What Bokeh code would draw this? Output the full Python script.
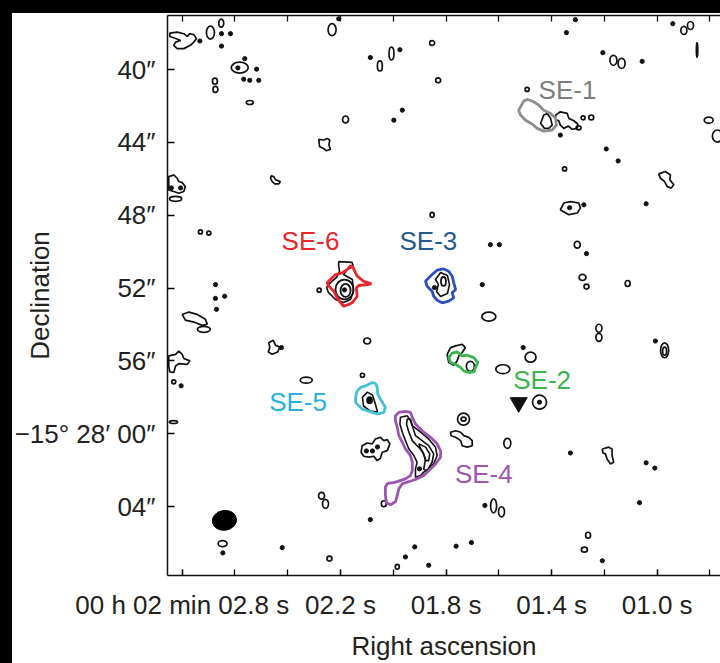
import math
from bokeh.plotting import figure
from bokeh.models import Range1d, FixedTicker, LinearAxis, Div
from bokeh.layouts import column, row
from bokeh.embed import file_html
from bokeh.resources import INLINE
from bokeh.core.properties import value

# ---------------- axes ----------------
x_ticks = [2.8, 2.2, 1.8, 1.4, 1.0]
x_tick_labels = ["00 h 02 min 02.8 s", "02.2 s", "01.8 s", "01.4 s", "01.0 s"]
x_minor = [2.8, 2.6, 2.4, 2.2, 2.0, 1.8, 1.6, 1.4, 1.2, 1.0, 0.8]
y_ticks = [40, 44, 48, 52, 56, 60, 64]
y_tick_labels = ["40″", "44″", "48″", "52″", "56″", "−15° 28′ 00″", "04″"]

# RA in seconds (00h02m + s), Dec in arcsec beyond -15°27'
# ---------------- noise contours: small closed rings (ra s, dec ", w ", h ") ----------------
ring_ra = [2.652, 2.693, 2.582, 2.676, 2.674, 2.544, 2.232, 2.051, 2.007, 1.853, 1.830, 2.181,
           1.493, 1.281, 1.250, 1.298, 1.351, 0.805, 0.772, 0.899, 0.874, 0.849, 1.166, 1.135,
           2.731, 2.699, 2.832, 2.099, 2.330, 2.117, 1.853, 2.281, 2.718, 2.825, 1.303, 1.283,
           1.268, 1.112, 1.638, 1.221, 1.221, 0.972, 0.972, 1.585, 1.480, 1.446, 1.734, 1.734,
           1.568, 1.620, 1.590, 1.262, 1.276, 2.833, 2.647, 2.242, 2.272, 2.257, 2.036, 1.985,
           1.708]
ring_dec = [37.45, 37.97, 39.89, 40.64, 41.09, 41.81, 37.81, 39.80, 39.12, 38.54, 40.59, 42.74,
            41.09, 42.65, 42.63, 43.20, 45.46, 42.78, 43.65, 37.85, 37.58, 38.92, 39.49, 39.66,
            48.92, 48.98, 57.15, 54.91, 57.06, 56.79, 47.98, 52.12, 54.27, 47.10, 49.62, 51.42,
            51.92, 51.75, 53.57, 54.21, 54.71, 55.42, 55.47, 56.46, 55.80, 58.27, 59.20, 59.20,
            60.53, 63.96, 64.29, 65.58, 66.37, 59.36, 66.04, 66.86, 63.41, 63.85, 63.85, 67.31,
            56.30]
ring_w = [0.27, 0.44, 0.93, 0.27, 0.27, 0.38, 0.44, 0.27, 0.27, 0.27, 0.27, 0.33,
          0.22, 0.22, 0.27, 0.27, 0.22, 0.49, 0.55, 0.33, 0.33, 0.08, 0.38, 0.38,
          0.22, 0.22, 0.22, 0.38, 0.66, 0.22, 0.22, 0.22, 0.71, 0.66, 0.33, 0.38,
          0.27, 0.27, 0.77, 0.33, 0.33, 0.44, 0.22, 0.77, 0.60, 0.77, 0.66, 0.27,
          0.38, 0.33, 0.33, 0.27, 0.33, 0.44, 0.49, 0.27, 0.33, 0.33, 0.27, 0.22,
          0.44]
ring_h = [0.44, 0.71, 0.60, 0.33, 0.33, 0.22, 0.66, 0.55, 0.71, 0.27, 0.27, 0.38,
          0.22, 0.22, 0.27, 0.22, 0.22, 0.33, 0.66, 0.44, 0.44, 0.82, 0.55, 0.55,
          0.22, 0.22, 0.22, 0.33, 0.33, 0.22, 0.27, 0.22, 0.33, 0.27, 0.38, 0.33,
          0.27, 0.33, 0.49, 0.44, 0.44, 0.82, 0.44, 0.49, 0.55, 0.77, 0.66, 0.22,
          0.55, 0.77, 0.55, 0.33, 0.27, 0.16, 0.33, 0.27, 0.38, 0.49, 0.33, 0.27,
          0.55]

# unresolved peaks (ra s, dec ")
peak_ra = [2.651, 2.617, 2.733, 2.651, 2.589, 2.563, 2.518, 2.567, 2.544, 2.510, 2.207, 2.087,
           1.975, 1.966, 1.998, 1.367, 1.193, 1.148, 1.310, 1.344, 0.941, 1.206, 1.057, 2.674,
           2.674, 2.639, 2.670, 2.804, 2.424, 1.332, 1.278, 1.042, 1.632, 1.598, 1.268, 1.663,
           1.007, 1.508, 1.329, 1.042, 1.009, 1.653, 1.067, 1.704, 1.762, 1.208, 2.646, 2.421,
           2.087, 1.919, 1.954, 1.866, 2.841, 2.806, 1.844, 1.901, 2.060, 2.102, 2.079, 1.446,
           2.090, 2.185]
peak_dec = [38.03, 38.03, 38.43, 38.71, 39.91, 39.40, 39.98, 40.53, 40.59, 40.59, 37.21, 39.34,
            38.91, 42.23, 42.78, 43.60, 44.36, 45.02, 37.26, 37.97, 37.48, 39.07, 39.55, 51.81,
            52.57, 52.45, 53.17, 57.37, 55.27, 47.59, 47.43, 47.37, 49.62, 49.62, 50.11, 51.81,
            54.91, 55.27, 61.06, 61.60, 61.89, 63.94, 63.79, 65.98, 66.18, 66.98, 66.55, 66.26,
            64.72, 66.22, 66.77, 67.23, 46.50, 46.50, 51.97, 61.93, 60.73, 60.95, 60.95, 58.27,
            58.16, 52.10]

# irregular noise contours (ra s / dec ")
blob_ra = [
    [2.847, 2.819, 2.794, 2.781, 2.771, 2.756, 2.746, 2.756, 2.769, 2.794, 2.819, 2.832, 2.825, 2.806, 2.832, 2.847],
    [2.282, 2.263, 2.251, 2.241, 2.244, 2.238, 2.253, 2.266, 2.279, 2.281],
    [2.463, 2.453, 2.446, 2.438, 2.428, 2.434, 2.449, 2.459, 2.465],
    [2.851, 2.832, 2.819, 2.813, 2.800, 2.788, 2.794, 2.813, 2.832, 2.851],
    [1.442, 1.430, 1.417, 1.404, 1.398, 1.411, 1.427],
    [1.385, 1.367, 1.341, 1.335, 1.316, 1.301, 1.303, 1.322, 1.337, 1.354, 1.367, 1.373, 1.385],
    [0.994, 0.969, 0.950, 0.952, 0.937, 0.947, 0.962, 0.972, 0.988],
    [2.800, 2.775, 2.743, 2.712, 2.705, 2.724, 2.756, 2.788],
    [2.472, 2.455, 2.446, 2.430, 2.438, 2.459, 2.474, 2.468],
    [2.851, 2.825, 2.813, 2.800, 2.794, 2.771, 2.781, 2.813, 2.825, 2.832, 2.847, 2.851],
    [2.118, 2.099, 2.080, 2.068, 2.049, 2.036, 2.023, 2.013, 2.023, 2.042, 2.049, 2.061, 2.074, 2.093, 2.112, 2.122],
    [1.367, 1.354, 1.329, 1.297, 1.291, 1.303, 1.335],
    [1.783, 1.764, 1.745, 1.733, 1.714, 1.701, 1.701, 1.720, 1.739, 1.745, 1.764, 1.781],
    [1.208, 1.184, 1.171, 1.171, 1.165, 1.177, 1.190, 1.196, 1.206],
    [1.796, 1.783, 1.764, 1.739, 1.727, 1.739, 1.752, 1.758, 1.771, 1.790],
]
blob_dec = [
    [38.00, 37.94, 38.03, 38.18, 38.03, 38.08, 38.30, 38.49, 38.67, 38.85, 38.85, 38.67, 38.49, 38.40, 38.25, 38.18],
    [43.83, 43.87, 43.78, 43.87, 44.14, 44.38, 44.46, 44.32, 44.24, 44.05],
    [45.84, 45.88, 46.06, 46.10, 46.15, 46.28, 46.28, 46.15, 45.97],
    [45.88, 45.79, 45.97, 46.15, 46.21, 46.43, 46.70, 46.79, 46.70, 46.61],
    [42.96, 42.50, 42.41, 42.68, 43.05, 43.23, 43.23],
    [42.50, 42.32, 42.41, 42.68, 42.81, 42.99, 43.23, 43.28, 43.10, 43.23, 43.05, 42.81, 42.74],
    [45.73, 45.60, 45.79, 46.06, 46.33, 46.51, 46.43, 46.15, 45.97],
    [53.45, 53.32, 53.45, 53.72, 53.99, 54.05, 53.87, 53.76],
    [55.00, 54.87, 55.15, 55.24, 55.51, 55.64, 55.51, 55.27],
    [55.73, 55.64, 55.46, 55.64, 55.87, 56.00, 56.19, 56.15, 56.28, 56.64, 56.61, 56.28],
    [60.66, 60.51, 60.56, 60.29, 60.20, 60.38, 60.33, 60.56, 60.93, 61.02, 61.35, 61.48, 61.24, 61.29, 61.24, 61.02],
    [47.70, 47.33, 47.25, 47.33, 47.61, 47.88, 47.97],
    [59.92, 59.84, 59.92, 60.11, 60.20, 60.38, 60.66, 60.74, 60.66, 60.38, 60.20, 60.11],
    [60.84, 60.74, 60.84, 61.20, 61.57, 61.66, 61.39, 61.11, 61.06],
    [55.64, 55.27, 55.18, 55.09, 55.27, 55.54, 55.73, 56.00, 56.24, 56.09],
]

# black contours of the detected sources (SE-6 outer, SE-3, SE-5, SE-4 three levels)
core_ra = [
    [2.207, 2.156, 2.152, 2.174, 2.189, 2.155, 2.151, 2.162, 2.189, 2.219, 2.246, 2.253, 2.238, 2.215, 2.204, 2.207],
    [1.840, 1.821, 1.795, 1.787, 1.795, 1.821, 1.836, 1.829],
    [2.117, 2.098, 2.079, 2.068, 2.060, 2.087, 2.113],
    [1.973, 1.947, 1.935, 1.928, 1.897, 1.866, 1.840, 1.834, 1.847, 1.866, 1.885, 1.897, 1.916, 1.916, 1.910, 1.922, 1.941, 1.954, 1.966, 1.975],
    [1.947, 1.935, 1.928, 1.916, 1.891, 1.866, 1.847, 1.853, 1.872, 1.885, 1.878, 1.891, 1.910, 1.928, 1.941, 1.950],
    [1.903, 1.878, 1.862, 1.866, 1.878, 1.885, 1.897],
]
core_dec = [
    [50.55, 50.59, 50.82, 50.99, 51.26, 51.53, 52.19, 52.63, 52.79, 52.63, 52.24, 51.97, 51.70, 51.42, 51.09, 50.77],
    [51.53, 51.15, 51.31, 51.81, 52.30, 52.46, 52.19, 51.81],
    [57.99, 57.72, 57.88, 58.37, 58.81, 58.76, 58.48],
    [59.10, 59.02, 59.29, 59.56, 59.92, 60.29, 60.74, 61.20, 61.66, 61.93, 62.11, 62.30, 62.39, 61.93, 61.57, 61.20, 60.84, 60.38, 59.92, 59.47],
    [59.20, 59.20, 59.56, 60.11, 60.38, 60.66, 61.11, 61.57, 62.04, 61.96, 61.39, 60.93, 60.66, 60.38, 59.92, 59.47],
    [60.56, 60.74, 61.11, 61.48, 61.48, 61.11, 60.84],
]
core_ring_ra = [2.185, 2.181, 1.810, 2.090]
core_ring_dec = [52.08, 52.13, 51.64, 58.16]
core_ring_w = [0.99, 0.55, 0.27, 0.27]
core_ring_h = [1.09, 0.71, 0.49, 0.33]

# coloured source contours
se_names = ["SE-1", "SE-6", "SE-3", "SE-2", "SE-5", "SE-4"]
se_ra = [
    [1.518, 1.506, 1.490, 1.468, 1.449, 1.430, 1.404, 1.385, 1.382, 1.398, 1.430, 1.455, 1.474, 1.499, 1.518, 1.525],
    [2.251, 2.219, 2.194, 2.175, 2.162, 2.152, 2.137, 2.112, 2.083, 2.099, 2.131, 2.140, 2.137, 2.156, 2.169, 2.188, 2.200, 2.213, 2.226, 2.244],
    [1.878, 1.866, 1.853, 1.834, 1.809, 1.790, 1.777, 1.771, 1.764, 1.777, 1.771, 1.790, 1.815, 1.834, 1.847, 1.853, 1.872],
    [1.790, 1.777, 1.758, 1.739, 1.720, 1.695, 1.680, 1.689, 1.695, 1.714, 1.733, 1.745, 1.764, 1.783],
    [2.143, 2.137, 2.124, 2.105, 2.093, 2.080, 2.068, 2.061, 2.059, 2.049, 2.030, 2.036, 2.061, 2.080, 2.099, 2.118, 2.131, 2.143],
    [1.992, 1.979, 1.954, 1.935, 1.928, 1.916, 1.891, 1.859, 1.834, 1.821, 1.821, 1.840, 1.866, 1.885, 1.910, 1.928, 1.947, 1.966, 1.979, 1.985, 1.992, 2.011, 2.026, 2.030, 2.030, 2.023, 1.992, 1.954, 1.935, 1.928, 1.928, 1.935, 1.954, 1.966, 1.979, 1.985, 1.992],
]
se_dec = [
    [42.05, 41.73, 41.64, 41.77, 41.95, 42.23, 42.41, 42.68, 43.05, 43.32, 43.38, 43.23, 42.99, 42.78, 42.50, 42.23],
    [51.71, 51.26, 51.17, 50.99, 50.77, 50.89, 51.35, 51.63, 51.77, 51.81, 51.86, 51.99, 52.45, 52.81, 52.90, 53.00, 52.81, 52.54, 52.17, 51.90],
    [51.63, 51.44, 51.26, 51.02, 50.95, 51.08, 51.35, 51.71, 52.08, 52.26, 52.54, 52.72, 52.81, 52.67, 52.45, 52.17, 51.90],
    [55.82, 55.58, 55.51, 55.73, 55.69, 55.82, 56.09, 56.37, 56.61, 56.64, 56.55, 56.37, 56.19, 56.09],
    [58.01, 57.65, 57.46, 57.37, 57.28, 57.19, 57.23, 57.46, 57.83, 58.10, 58.56, 58.83, 58.92, 58.83, 58.74, 58.65, 58.47, 58.28],
    [59.02, 58.83, 58.78, 58.83, 59.10, 59.47, 59.84, 60.20, 60.56, 60.93, 61.29, 61.66, 62.03, 62.30, 62.48, 62.57, 62.66, 62.75, 63.03, 63.39, 63.74, 63.90, 63.79, 63.39, 62.93, 62.75, 62.66, 62.48, 62.30, 62.03, 61.57, 61.20, 60.84, 60.47, 60.11, 59.65, 59.29],
]
se_label_ra = [1.340, 2.314, 1.867, 1.436, 2.361, 1.657]
se_label_dec = [41.13, 49.44, 49.40, 57.06, 58.27, 62.23]

# marker near SE-2, synthesised beam (major ", minor ")
marker_ra = [1.525]
marker_dec = [58.29]
beam_ra = [2.640]
beam_dec = [64.76]
beam_major = [1.33]
beam_minor = [1.09]

# ---------------- styles ----------------
contour_colors = ["#8e8e8e", "#e8262b", "#2c4fbf", "#3bb54a", "#45c0d4", "#9e55b2"]
label_colors = ["#7d7d7d", "#e8262b", "#255a8e", "#3bb54a", "#2aaee3", "#9e55b2"]
FONT = "Liberation Sans"
TXT = "#231f20"
INK = "#111111"

AS_PER_SEC = 15.0 * math.cos(math.radians(15.466))   # arcsec per second of RA


def ra_width(vals):
    return [v / AS_PER_SEC for v in vals]


X_LEFT, X_RIGHT = 2.8557, 0.7602
Y_BOTTOM, Y_TOP = 67.79, 37.03

p = figure(width=708, height=650, output_backend="svg", toolbar_location=None,
           x_range=Range1d(X_LEFT, X_RIGHT), y_range=Range1d(Y_BOTTOM, Y_TOP),
           min_border_left=155, min_border_right=0, min_border_top=2, min_border_bottom=86,
           background_fill_color="white", border_fill_color="white",
           outline_line_color=None)
p.grid.visible = False

xa = p.xaxis[0]
xa.ticker = FixedTicker(ticks=x_ticks, minor_ticks=x_minor)
xa.major_label_overrides = dict(zip(x_ticks, x_tick_labels))
xa.major_tick_in = 6
xa.major_tick_out = 0
xa.minor_tick_in = 6
xa.minor_tick_out = 0
xa.major_label_standoff = 14
xa.major_label_text_font = FONT
xa.major_label_text_font_size = "26px"
xa.major_label_text_color = TXT
xa.axis_line_width = 1.5
xa.axis_line_color = INK
xa.major_tick_line_width = 1.3
xa.minor_tick_line_width = 1.3
xa.axis_label = "Right ascension"
xa.axis_label_standoff = 8
xa.axis_label_text_font = FONT
xa.axis_label_text_font_size = "26px"
xa.axis_label_text_font_style = "normal"
xa.axis_label_text_color = TXT

ya = p.yaxis[0]
ya.ticker = FixedTicker(ticks=y_ticks)
ya.major_label_overrides = dict(zip(y_ticks, y_tick_labels))
ya.major_tick_in = 7
ya.major_tick_out = 0
ya.minor_tick_line_color = None
ya.major_label_standoff = 12
ya.major_label_text_font = FONT
ya.major_label_text_font_size = "26px"
ya.major_label_text_color = TXT
ya.axis_line_width = 1.5
ya.axis_line_color = INK
ya.major_tick_line_width = 1.3
ya.axis_label = "Declination"
ya.axis_label_standoff = -43
ya.axis_label_text_font = FONT
ya.axis_label_text_font_size = "26px"
ya.axis_label_text_font_style = "normal"
ya.axis_label_text_color = TXT

# top edge of the map: frame line with the same RA tick marks, no labels
ta = LinearAxis(ticker=FixedTicker(ticks=[], minor_ticks=x_minor),
                major_tick_in=0, major_tick_out=0, minor_tick_in=6, minor_tick_out=0,
                major_label_standoff=0, axis_line_width=1.5, axis_line_color=INK,
                minor_tick_line_width=1.3, minor_tick_line_color=INK)
p.add_layout(ta, "above")

# noise contours
p.ellipse(x=ring_ra, y=ring_dec, width=ra_width(ring_w), height=ring_h,
          fill_color=None, line_color=INK, line_width=1.7)
p.patches(xs=blob_ra, ys=blob_dec, fill_color=None, line_color=INK, line_width=1.7)
p.scatter(x=peak_ra, y=peak_dec, size=4.2, color=INK)

# source contours
p.patches(xs=core_ra, ys=core_dec, fill_color=None, line_color=INK, line_width=1.6)
p.ellipse(x=core_ring_ra, y=core_ring_dec, width=ra_width(core_ring_w), height=core_ring_h,
          fill_color=None, line_color=INK, line_width=1.8)
p.patches(xs=se_ra, ys=se_dec, fill_color=None, line_color=contour_colors, line_width=2.8)

p.text(x=se_label_ra, y=se_label_dec, text=se_names, text_color=label_colors,
       text_font=value(FONT), text_font_size="26px", text_align="center", text_baseline="middle")

p.scatter(x=marker_ra, y=marker_dec, marker="inverted_triangle", size=17, color=INK)
p.ellipse(x=beam_ra, y=beam_dec, width=ra_width(beam_major), height=beam_minor, angle=0.15,
          fill_color="#000000", line_color="#000000")

top_bar = Div(text="", width=720, height=13, margin=0, styles={"background-color": "black"})
left_bar = Div(text="", width=12, height=650, margin=0, styles={"background-color": "black"})
page = column(top_bar, row(left_bar, p, spacing=0), spacing=0)

open("out.html", "w").write(file_html(page, INLINE))
